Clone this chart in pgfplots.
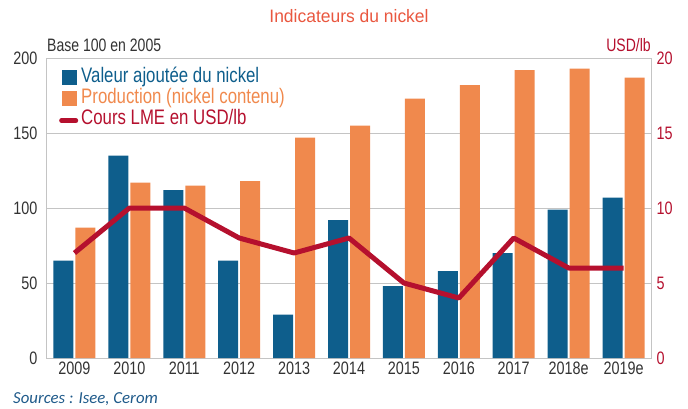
\documentclass[border=0pt]{standalone}
\usepackage{pgfplots}
\pgfplotsset{compat=1.18}
\usepackage{fontspec}
\setmainfont{Liberation Sans}[FakeStretch=0.78]
\newfontfamily\legfont{Liberation Sans}[FakeStretch=0.80]
\newfontfamily\titlefont{Liberation Sans}[FakeStretch=0.97]
\newfontfamily\digfont{Liberation Sans}[FakeStretch=0.8]
\newfontfamily\srcfont{Carlito}
\definecolor{cblue}{HTML}{0E5E8C}
\definecolor{corange}{HTML}{F0894D}
\definecolor{cred}{HTML}{B5102E}
\definecolor{ctitle}{HTML}{E9573F}
\definecolor{ctext}{HTML}{333333}
\definecolor{cgrid}{HTML}{C4C4C4}
\definecolor{csrc}{HTML}{1F5A8A}
\begin{document}
\begin{tikzpicture}
\begin{axis}[name=main, at={(0,0)}, anchor=south west, scale only axis,
  width=604pt, height=300pt,
  xmin=-0.5, xmax=10.5, ymin=0, ymax=200,
  xtick={0,...,10},
  xticklabels={2009,2010,2011,2012,2013,2014,2015,2016,2017,2018e,2019e},
  ytick={0,50,100,150,200},
  ymajorgrids, grid style={cgrid, line width=1pt},
  axis line style={cgrid, line width=1pt},
  major tick length=0pt,
  tick label style={font=\digfont\fontsize{18}{20}\selectfont, text=ctext},
  yticklabel style={xshift=-6pt},
  /pgf/number format/assume math mode=true,
  ybar=2pt, bar width=20pt,
  legend style={draw=none, fill=none, at={(0,1)}, anchor=north west,
    xshift=12pt, yshift=-9pt,
    font=\legfont\fontsize{21}{23}\selectfont, inner sep=0pt, row sep=1.2pt, column sep=3pt,
    nodes={inner sep=0pt, text height=15pt, text depth=5pt}},
  legend cell align=left,
]
\addplot[fill=cblue, draw=none,
  legend image code/.code={\fill[cblue] (0pt,-7.5pt) rectangle (15pt,7.5pt);}]
  coordinates {(0,65) (1,135) (2,112) (3,65) (4,29) (5,92) (6,48) (7,58) (8,70) (9,99) (10,107)};
\addlegendentry{\textcolor{cblue}{Valeur ajoutée du nickel}}
\addplot[fill=corange, draw=none,
  legend image code/.code={\fill[corange] (0pt,-7.5pt) rectangle (15pt,7.5pt);}]
  coordinates {(0,87) (1,117) (2,115) (3,118) (4,147) (5,155) (6,173) (7,182) (8,192) (9,193) (10,187)};
\addlegendentry{\textcolor{corange}{Production (nickel contenu)}}
\addlegendimage{legend image code/.code={\draw[cred, line width=4.5pt, line cap=round] (-0.5pt,-1pt) -- (14pt,-1pt);}}
\addlegendentry{\textcolor{cred}{Cours LME en USD/lb}}
\end{axis}
\begin{axis}[at={(0,0)}, anchor=south west, scale only axis,
  width=604pt, height=300pt,
  xmin=-0.5, xmax=10.5, ymin=0, ymax=20,
  axis y line*=right, axis x line=none,
  y axis line style={draw=none},
  ytick={0,5,10,15,20},
  major tick length=0pt,
  yticklabel style={font=\digfont\fontsize{18}{20}\selectfont, text=cred, xshift=2pt},
  /pgf/number format/assume math mode=true,
]
\addplot[cred, line width=5pt, line join=round, mark=none]
  coordinates {(0,7) (1,10) (2,10) (3,8) (4,7) (5,8) (6,5) (7,4) (8,8) (9,6) (10,6)};
\end{axis}
\node[anchor=base, inner sep=0pt, text=ctitle, font=\titlefont\fontsize{18}{20}\selectfont] at ([yshift=35pt]main.north) {Indicateurs du nickel};
\node[anchor=base west, inner sep=0pt, text=ctext, font=\fontsize{18}{20}\selectfont] at ([yshift=7pt]main.north west) {Base 100 en 2005};
\node[anchor=base east, inner sep=0pt, text=cred, font=\fontsize{18}{20}\selectfont] at ([yshift=7pt]main.north east) {USD/lb};
\node[anchor=base west, inner sep=0pt, text=csrc, font=\srcfont\itshape\fontsize{16.8}{18}\selectfont] at ([xshift=-34pt,yshift=-45pt]main.south west) {Sources : Isee, Cerom};
\pgfresetboundingbox
\path[use as bounding box] (-47pt,-50pt) rectangle (641pt,358pt);
\end{tikzpicture}
\end{document}
